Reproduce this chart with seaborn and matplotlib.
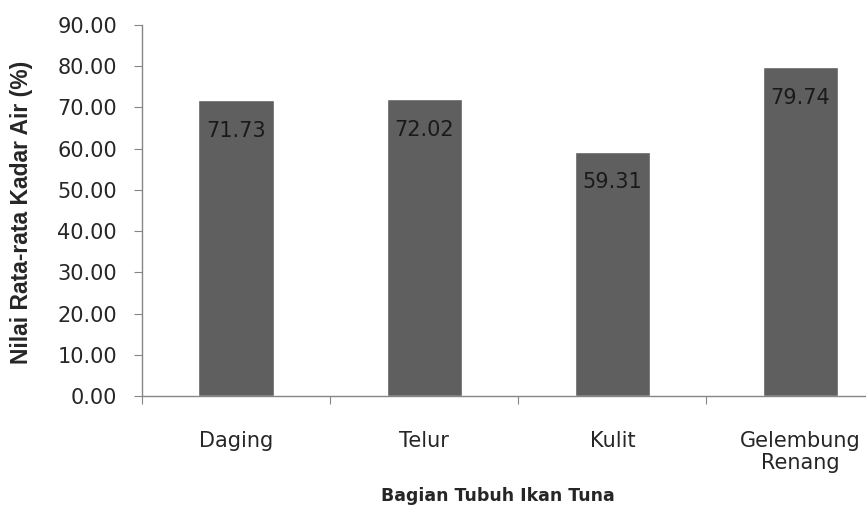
import seaborn as sns
import pandas as pd
import matplotlib.pyplot as plt
from matplotlib.ticker import FixedLocator, FormatStrFormatter

# Data
bagian = ['Daging', 'Telur', 'Kulit', 'Gelembung\nRenang']
kadar_air = [71.73, 72.02, 59.31, 79.74]
y_ticks = [0, 10, 20, 30, 40, 50, 60, 70, 80, 90]

df = pd.DataFrame({'bagian': bagian, 'kadar_air': kadar_air})

sns.set_style('white')
plt.rcParams['font.family'] = ['DejaVu Sans']

fig = plt.figure(figsize=(8.66, 5.08), dpi=100)
ax = fig.add_axes([0.164, 0.2205, 0.869, 0.7303])

sns.barplot(data=df, x='bagian', y='kadar_air', color='#5f5f5f',
            width=0.4, saturation=1, ax=ax)

# labels inside the bars
for i, v in enumerate(kadar_air):
    ax.annotate(f'{v:.2f}', xy=(i, v), xytext=(0, -22), textcoords='offset points',
                ha='center', va='center', fontsize=15, color='#1a1a1a')

ax.set_ylim(0, 90)
ax.set_xlim(-0.5, 3.5)
ax.set_yticks(y_ticks)
ax.yaxis.set_major_formatter(FormatStrFormatter('%.2f'))

# x ticks at category boundaries, labels centred under bars
ax.xaxis.set_major_locator(FixedLocator([-0.5, 0.5, 1.5, 2.5, 3.5]))
ax.xaxis.set_minor_locator(FixedLocator(range(len(bagian))))
ax.set_xticklabels([])
ax.set_xticklabels(bagian, minor=True, linespacing=1.15)
ax.tick_params(axis='x', which='minor', length=0, pad=25, labelsize=15, labelcolor='#262626')
ax.tick_params(axis='x', which='major', length=6, direction='out', color='#868686')
ax.tick_params(axis='y', length=6, direction='out', color='#868686', labelsize=15,
               labelcolor='#262626', pad=12)
ax.tick_params(bottom=True, left=True)

for s in ['top', 'right']:
    ax.spines[s].set_visible(False)
for s in ['left', 'bottom']:
    ax.spines[s].set_color('#868686')
    ax.spines[s].set_linewidth(1)

ax.set_xlabel('Bagian Tubuh Ikan Tuna', fontsize=12.5, fontweight='bold')
ax.set_ylabel('Nilai Rata-rata Kadar Air (%)', fontsize=16.5, fontweight='bold',
              family='Liberation Sans')
ax.xaxis.set_label_coords(0.473, -0.245)
ax.yaxis.set_label_coords(-0.145, 0.495)

plt.savefig('out.png', dpi=100)
